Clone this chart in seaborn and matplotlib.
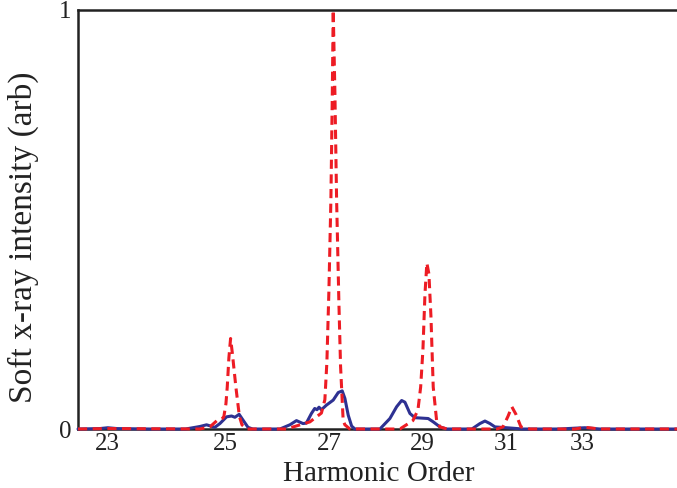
import numpy as np
import pandas as pd
import matplotlib
matplotlib.use("Agg")
import matplotlib.pyplot as plt
import seaborn as sns

# Harmonic order (x) and normalised intensity (y)
red_order = [22.53, 23.00, 24.55, 24.727, 24.870, 24.961, 24.979, 25.016, 25.040, 25.070,
             25.101, 25.134, 25.198, 25.263, 25.31, 25.40, 26.15, 26.615, 26.846, 26.916,
             26.957, 26.998, 27.039, 27.066, 27.086, 27.121, 27.155, 27.203, 27.237, 27.291,
             27.327, 27.43, 28.505, 28.794, 28.907, 28.969, 29.021, 29.066, 29.11, 29.157,
             29.203, 29.256, 29.334, 29.411, 29.574, 30.777, 30.927, 31.052, 31.15, 31.254,
             31.381, 31.612, 32.81, 33.08, 33.50, 35.78]
red_int = [0, 0.001, 0, 0.005, 0.022, 0.026, 0.03, 0.06, 0.10, 0.17,
           0.216, 0.18, 0.10, 0.03, 0.01, 0, 0, 0.017, 0.038, 0.07,
           0.16, 0.33, 0.55, 0.785, 1.0, 0.80, 0.55, 0.30, 0.15, 0.02,
           0.01, 0, 0, 0.02, 0.045, 0.10, 0.19, 0.32, 0.396, 0.37,
           0.27, 0.10, 0.02, 0.005, 0, 0, 0.005, 0.03, 0.053, 0.035,
           0.005, 0, 0, 0.004, 0, 0]

blue_order = [22.53, 22.87, 23.00, 23.15, 23.69, 24.30, 24.55, 24.668, 24.816, 24.907,
              25.028, 25.119, 25.180, 25.258, 25.331, 25.422, 25.51, 26.027, 26.220, 26.349,
              26.478, 26.544, 26.645, 26.711, 26.757, 26.797, 26.846, 26.948, 27.086, 27.189,
              27.271, 27.327, 27.396, 27.467, 27.536, 28.068, 28.285, 28.432, 28.543, 28.616,
              28.728, 28.839, 28.991, 29.141, 29.256, 29.411, 29.567, 30.165, 30.360, 30.482,
              30.604, 30.728, 31.02, 31.43, 32.40, 32.81, 33.08, 33.50, 35.78]
blue_int = [0, 0.001, 0.003, 0.001, 0, 0, 0.006, 0.010, 0.004, 0.013,
            0.029, 0.031, 0.028, 0.035, 0.021, 0.004, 0, 0, 0.010, 0.020,
            0.013, 0.014, 0.037, 0.049, 0.046, 0.052, 0.046, 0.057, 0.069, 0.087,
            0.091, 0.073, 0.033, 0.007, 0, 0, 0.025, 0.053, 0.068, 0.064,
            0.037, 0.027, 0.026, 0.025, 0.017, 0.005, 0, 0, 0.013, 0.019,
            0.013, 0.005, 0.003, 0, 0, 0.002, 0.003, 0, 0]

x_ticks = [23, 25, 27, 29, 31, 33]
y_ticks = [0, 1]
y_tick_labels = ["0", "1"]

sns.set_theme(style="white")
plt.rcParams["font.family"] = ["Liberation Serif", "DejaVu Serif"]

fig = plt.figure(figsize=(6.77, 4.88), dpi=100)
ax = fig.add_axes([78 / 677, 59 / 488, 599 / 677, 419 / 488])


def fwd(q):
    q = np.asarray(q, dtype=float)
    return -np.power(np.clip(q, 1e-6, None), -0.5)


def inv(v):
    v = np.asarray(v, dtype=float)
    return np.power(np.clip(-v, 1e-9, None), -2.0)


ax.set_xscale("function", functions=(fwd, inv))

blue_df = pd.DataFrame({"order": blue_order, "intensity": blue_int})
red_df = pd.DataFrame({"order": red_order, "intensity": red_int})

sns.lineplot(data=blue_df, x="order", y="intensity", ax=ax, color="#2e3192",
             linewidth=2.2, estimator=None, clip_on=False, zorder=3)
sns.lineplot(data=red_df, x="order", y="intensity", ax=ax, color="#ed1c24",
             linewidth=2.2, linestyle=(0, (3.0, 1.8)), estimator=None,
             clip_on=False, zorder=4)

ax.set_xlim(22.53, 35.78)
ax.set_ylim(0, 1)
ax.set_xticks(x_ticks)
ax.set_xticklabels([str(t) for t in x_ticks])
ax.set_yticks(y_ticks)
ax.set_yticklabels(y_tick_labels)
ax.xaxis.set_minor_locator(matplotlib.ticker.NullLocator())

ax.tick_params(axis="x", length=0, pad=3, labelsize=18, colors="#222222")
ax.tick_params(axis="y", length=0, pad=5, labelsize=18, colors="#222222")

for side in ["left", "top", "bottom"]:
    ax.spines[side].set_visible(True)
    ax.spines[side].set_color("#222222")
    ax.spines[side].set_linewidth(1.8)
ax.spines["right"].set_visible(False)

ax.set_xlabel("Harmonic Order", fontsize=21, color="#222222")
ax.xaxis.label.set_va("baseline")
ax.xaxis.set_label_coords(0.502, -0.124)
ax.set_ylabel("Soft x-ray intensity (arb)", fontsize=24, color="#222222")
ax.yaxis.label.set_va("center")
ax.yaxis.set_label_coords(-0.092, 0.458)

ax.grid(False)
fig.savefig("out.png", dpi=100)
